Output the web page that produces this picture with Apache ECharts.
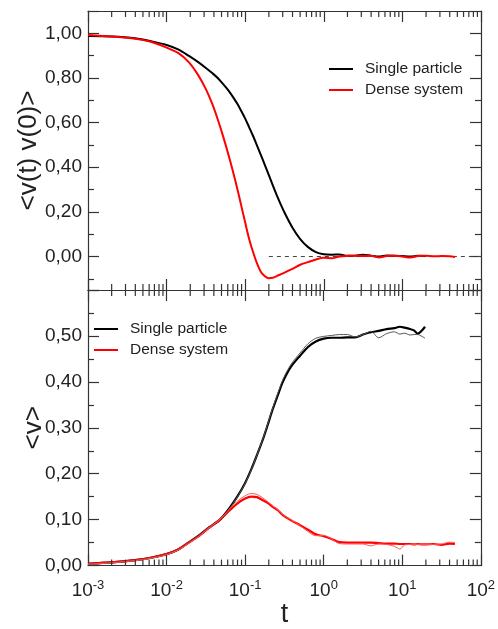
<!DOCTYPE html>
<html>
<head>
<meta charset="utf-8">
<script src="https://cdn.jsdelivr.net/npm/echarts@6/dist/echarts.min.js"></script>
<style>
  html, body {margin: 0; padding: 0; background: #fff;}
  #chart {width: 498px; height: 629px;}
</style>
</head>
<body>
<div id="chart"></div>
<script>
// time grid of the upper panel
var tTop = [0.001, 0.002, 0.004, 0.0063, 0.01, 0.014, 0.019, 0.025, 0.0316, 0.038, 0.0447, 0.0525,
    0.063, 0.0708, 0.0794, 0.0891, 0.1, 0.112, 0.126, 0.141, 0.158, 0.178, 0.2, 0.224, 0.251, 0.282,
    0.316, 0.398, 0.501, 0.631, 0.794, 1, 1.26, 1.58, 2.0, 2.51, 3.16, 3.98, 5.01, 6.31, 7.94, 10,
    12.6, 15.8, 20, 25.1, 31.6, 39.8, 46.8];

// <v(t) v(0)>, single particle (stops at t = 20)
var vacfSingle = [0.988, 0.986, 0.978, 0.965, 0.948, 0.928, 0.9, 0.872, 0.845, 0.822, 0.8, 0.772,
    0.738, 0.712, 0.684, 0.652, 0.618, 0.58, 0.54, 0.498, 0.455, 0.41, 0.365, 0.32, 0.276, 0.235,
    0.197, 0.13, 0.078, 0.042, 0.02, 0.01, 0.008, 0.009, 0.003, 0.004, 0.008, 0.004, 0.0, 0.005,
    0.004, 0.002, 0.0, 0.003, 0.002];

// <v(t) v(0)>, dense system
var vacfDense = [0.993, 0.986, 0.976, 0.962, 0.936, 0.912, 0.872, 0.815, 0.75, 0.685, 0.615, 0.537,
    0.44, 0.373, 0.303, 0.228, 0.152, 0.08, 0.02, -0.03, -0.068, -0.088, -0.097, -0.095, -0.088, -0.08,
    -0.072, -0.055, -0.037, -0.025, -0.013, -0.006, -0.008, 0.0, 0.003, 0.004, 0.002, 0.003, -0.004,
    0.002, 0.003, 0.0, -0.004, 0.002, 0.003, 0.001, 0.002, 0.001, -0.002];

// dashed zero reference line
var zeroLineT = [0.2, 100];
var zeroLineV = [0, 0];

// time grid of the lower panel
var tBot = [0.001, 0.002, 0.004, 0.0063, 0.01, 0.0141, 0.019, 0.0251, 0.0347, 0.0479, 0.0631, 0.0794,
    0.1, 0.12, 0.141, 0.166, 0.191, 0.224, 0.263, 0.302, 0.38, 0.501, 0.631, 0.794, 1, 1.26, 1.58,
    2.0, 2.51, 3.16, 3.98, 5.01, 6.31, 7.94, 9.33, 10.7, 12.6, 14.1, 15.8, 17.8, 19.5, 25.1, 31.6,
    39.8, 46.8];

// <v>, single particle: thick run and thin run
var meanSingle = [0.004, 0.007, 0.012, 0.017, 0.025, 0.035, 0.05, 0.064, 0.083, 0.10, 0.125, 0.15,
    0.18, 0.21, 0.24, 0.272, 0.303, 0.34, 0.373, 0.40, 0.432, 0.457, 0.476, 0.488, 0.494, 0.496, 0.496,
    0.497, 0.497, 0.503, 0.508, 0.511, 0.515, 0.517, 0.52, 0.518, 0.515, 0.512, 0.505, 0.512, 0.52];
var meanSingle2 = [0.003, 0.006, 0.011, 0.016, 0.024, 0.034, 0.049, 0.063, 0.082, 0.10, 0.124, 0.149,
    0.179, 0.209, 0.24, 0.273, 0.305, 0.343, 0.377, 0.405, 0.437, 0.463, 0.483, 0.495, 0.499, 0.501,
    0.503, 0.503, 0.498, 0.503, 0.51, 0.496, 0.505, 0.509, 0.504, 0.506, 0.502, 0.503, 0.503, 0.499,
    0.495];

// <v>, dense system: thick run and thin run
var meanDense = [0.004, 0.007, 0.012, 0.017, 0.025, 0.035, 0.05, 0.063, 0.082, 0.10, 0.12, 0.135,
    0.146, 0.15, 0.149, 0.143, 0.137, 0.128, 0.12, 0.11, 0.099, 0.088, 0.078, 0.068, 0.064, 0.058,
    0.051, 0.05, 0.05, 0.05, 0.05, 0.049, 0.048, 0.048, 0.047, 0.047, 0.047, 0.046, 0.047, 0.046,
    0.046, 0.047, 0.045, 0.048, 0.047];
var meanDense2 = [0.003, 0.006, 0.011, 0.016, 0.024, 0.034, 0.048, 0.062, 0.082, 0.101, 0.123, 0.14,
    0.152, 0.157, 0.155, 0.148, 0.14, 0.13, 0.121, 0.111, 0.1, 0.087, 0.074, 0.065, 0.066, 0.058,
    0.048, 0.047, 0.047, 0.047, 0.043, 0.047, 0.046, 0.042, 0.036, 0.045, 0.046, 0.046, 0.046, 0.046,
    0.046, 0.046, 0.047, 0.051, 0.05];

var legendNames = ['Single particle', 'Dense system'];
var decadeMultipliers = [2, 3, 4, 5, 6, 7, 8, 9];
var decades = [0.001, 0.01, 0.1, 1, 10];

function zip(ts, vs) {
    var out = [];
    for (var i = 0; i < vs.length; i++) out.push([ts[i], vs[i]]);
    return out;
}

// minor ticks of the log axis, 2..9 in every decade
var minorTicksX = [];
decades.forEach(function (d) {
    decadeMultipliers.forEach(function (m) { minorTicksX.push([d * m, 0]); });
});

var FONT = '"Liberation Sans", Arial, Helvetica, sans-serif';
var AX = '#333';

function commaLabel(v) {
    return v.toFixed(2).replace('.', ',');
}

function xAxisCfg(grid, pos, labels) {
    return {
        type: 'log', logBase: 10, gridIndex: grid, position: pos, min: 0.001, max: 100,
        axisLine: {show: true, onZero: false, lineStyle: {color: AX, width: 1.2}},
        axisTick: {show: true, inside: true, length: 11, lineStyle: {color: AX, width: 1.2}},
        splitLine: {show: false},
        axisLabel: labels ? {
            show: true, margin: 13, fontFamily: FONT, color: '#222',
            formatter: function (v) {
                return '{b|10}{e|' + Math.round(Math.log10(v)) + '}';
            },
            rich: {
                b: {fontSize: 19, fontFamily: FONT, color: '#222'},
                e: {fontSize: 13, fontFamily: FONT, color: '#222', padding: [0, 0, 11, 0]}
            }
        } : {show: false},
        name: labels ? 't' : '',
        nameLocation: 'middle', nameGap: 31,
        nameTextStyle: {fontSize: 27, fontFamily: FONT, color: '#222'}
    };
}

function yAxisCfg(grid, pos, min, max, opts, labelFn, name, gap) {
    var cfg = {
        type: 'value', gridIndex: grid, position: pos, min: min, max: max,
        axisLine: {show: true, onZero: false, lineStyle: {color: AX, width: 1.2}},
        axisTick: {show: true, inside: true, length: 11, lineStyle: {color: AX, width: 1.2}},
        minorTick: {show: true, splitNumber: 2, length: 6, lineStyle: {color: AX, width: 1.2}},
        splitLine: {show: false},
        axisLabel: labelFn ? {show: true, margin: 6, fontSize: 19, fontFamily: FONT, color: '#222', formatter: labelFn} : {show: false},
        name: name || '', nameLocation: 'middle', nameRotate: 90, nameGap: gap || 40,
        nameMoveOverlap: false,
        nameTextStyle: {fontSize: 26, fontFamily: FONT, color: '#222'}
    };
    for (var k in opts) cfg[k] = opts[k];
    return cfg;
}

function minorTickSeries(xi, yi) {
    return {
        type: 'custom', xAxisIndex: xi, yAxisIndex: yi, silent: true, clip: false, z: 5,
        data: minorTicksX,
        renderItem: function (params, api) {
            var cs = params.coordSys;
            var x = api.coord([api.value(0), api.value(1)])[0];
            var st = {stroke: AX, lineWidth: 1.2};
            return {
                type: 'group', children: [
                    {type: 'line', shape: {x1: x, y1: cs.y, x2: x, y2: cs.y + 6}, style: st},
                    {type: 'line', shape: {x1: x, y1: cs.y + cs.height, x2: x, y2: cs.y + cs.height - 6}, style: st}
                ]
            };
        }
    };
}

function lineSeries(name, xi, yi, data, color, width, z) {
    return {
        name: name, type: 'line', xAxisIndex: xi, yAxisIndex: yi, data: data,
        showSymbol: false, symbol: 'none', smooth: 0.3, z: z || 3,
        lineStyle: {color: color, width: width}, itemStyle: {color: color},
        emphasis: {disabled: true}
    };
}

var topLabel = function (v) {
    if (v < -0.01 || v > 1.05) return '';
    return commaLabel(v);
};
var botLabel = function (v) {
    if (v > 0.55) return '';
    return commaLabel(v);
};

var legendText = {fontSize: 15.5, lineHeight: 16, color: '#222', fontFamily: FONT, padding: [0, 0, 0, 7]};

var chart = echarts.init(document.getElementById('chart'), null, {renderer: 'canvas'});

var option = {
    animation: false,
    backgroundColor: '#fff',
    textStyle: {fontFamily: FONT},
    grid: [
        {left: 88, top: 11, width: 393, height: 279},
        {left: 88, top: 290, width: 393, height: 280}
    ],
    xAxis: [
        xAxisCfg(0, 'bottom', false),
        xAxisCfg(0, 'top', false),
        xAxisCfg(1, 'bottom', true),
        xAxisCfg(1, 'top', false)
    ],
    yAxis: [
        yAxisCfg(0, 'left', -0.15, 1.1, {splitNumber: 6}, topLabel, '<v(t) v(0)>', 46),
        yAxisCfg(0, 'right', -0.15, 1.1, {splitNumber: 6}, null),
        yAxisCfg(1, 'left', 0, 0.6, {interval: 0.1}, botLabel, '<v>', 41),
        yAxisCfg(1, 'right', 0, 0.6, {interval: 0.1}, null)
    ],
    legend: [
        {
            data: legendNames, orient: 'vertical', left: 324, top: 56,
            icon: 'rect', itemWidth: 24, itemHeight: 2, itemGap: 5, selectedMode: false,
            textStyle: legendText
        },
        {
            data: legendNames, orient: 'vertical', left: 89, top: 316,
            icon: 'rect', itemWidth: 24, itemHeight: 2, itemGap: 5, selectedMode: false,
            textStyle: legendText
        }
    ],
    series: [
        {
            name: 'zero', type: 'line', xAxisIndex: 0, yAxisIndex: 0, data: zip(zeroLineT, zeroLineV),
            showSymbol: false, symbol: 'none', z: 2,
            lineStyle: {color: '#444', width: 1, type: [4, 4]}
        },
        lineSeries('Single particle', 0, 0, zip(tTop, vacfSingle), '#000', 2),
        lineSeries('Dense system', 0, 0, zip(tTop, vacfDense), '#ff0000', 2, 4),
        lineSeries('Single particle', 2, 2, zip(tBot, meanSingle), '#000', 2.2),
        lineSeries('Dense system', 2, 2, zip(tBot, meanDense), '#ff0000', 2.2),
        lineSeries('Single particle run 2', 2, 2, zip(tBot, meanSingle2), '#555', 1, 4),
        lineSeries('Dense system run 2', 2, 2, zip(tBot, meanDense2), '#ff5555', 1, 4),
        minorTickSeries(0, 0),
        minorTickSeries(2, 2)
    ]
};

chart.setOption(option);
</script>
</body>
</html>
